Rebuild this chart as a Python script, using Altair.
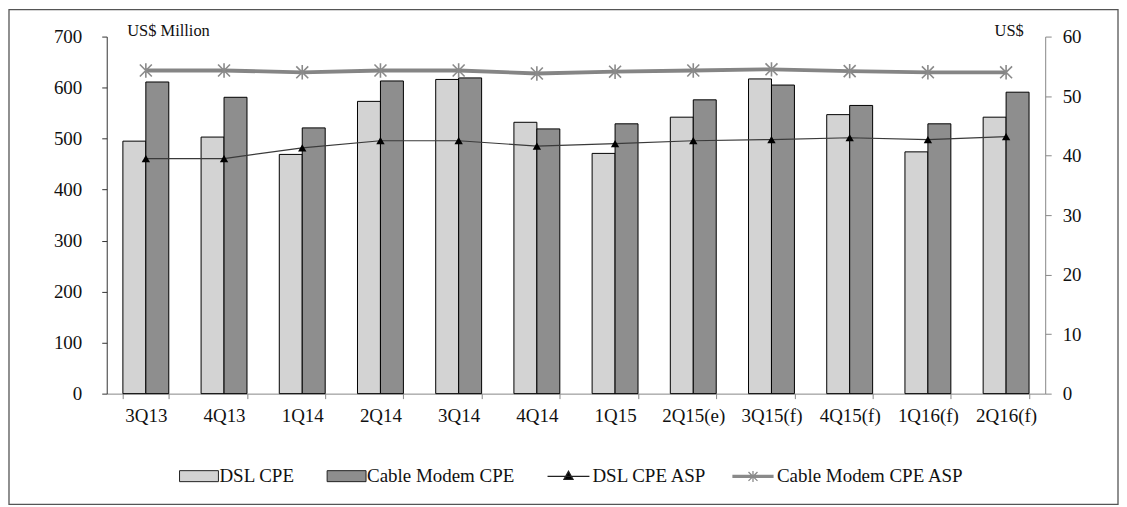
import altair as alt
import pandas as pd

quarters = ["3Q13", "4Q13", "1Q14", "2Q14", "3Q14", "4Q14", "1Q15",
            "2Q15(e)", "3Q15(f)", "4Q15(f)", "1Q16(f)", "2Q16(f)"]
dsl_cpe = [495, 503, 469, 573, 616, 532, 471, 542, 617, 547, 474, 542]
cable_cpe = [611, 581, 521, 613, 619, 519, 529, 576, 605, 565, 529, 591]
dsl_asp = [39.5, 39.5, 41.3, 42.5, 42.5, 41.6, 42.0, 42.5, 42.7, 43.0, 42.7, 43.2]
cable_asp = [54.3, 54.3, 54.0, 54.3, 54.3, 53.8, 54.1, 54.3, 54.5, 54.2, 54.0, 54.0]

bar_names = ["DSL CPE", "Cable Modem CPE"]
line_names = ["DSL CPE ASP", "Cable Modem CPE ASP"]

bars_df = pd.DataFrame(
    [{"quarter": q, "series": bar_names[0], "value": v} for q, v in zip(quarters, dsl_cpe)]
    + [{"quarter": q, "series": bar_names[1], "value": v} for q, v in zip(quarters, cable_cpe)]
)
lines_df = pd.DataFrame(
    [{"quarter": q, "series": line_names[0], "asp": v} for q, v in zip(quarters, dsl_asp)]
    + [{"quarter": q, "series": line_names[1], "asp": v} for q, v in zip(quarters, cable_asp)]
)

FONT = "Liberation Serif"
W, H = 941, 358

x_enc = alt.X(
    "quarter:N", sort=quarters,
    scale=alt.Scale(paddingInner=0.413, paddingOuter=0.2065),
    axis=alt.Axis(title=None, labelAngle=0, tickBand="extent", tickSize=5,
                  labelPadding=8, labelFontSize=19, labelFont=FONT,
                  labelColor="#111", domainColor="#888", tickColor="#888",
                  labelOverlap=False),
)

bars = alt.Chart(bars_df).mark_bar(stroke="black", strokeWidth=1).encode(
    x=x_enc,
    xOffset=alt.XOffset("series:N", sort=bar_names, scale=alt.Scale(paddingInner=0, paddingOuter=0)),
    y=alt.Y("value:Q", scale=alt.Scale(domain=[0, 700]),
            axis=alt.Axis(values=list(range(0, 701, 100)), grid=False, tickSize=5,
                          labelPadding=20, labelFontSize=19, labelFont=FONT, labelColor="#111",
                          domainColor="#333", tickColor="#333",
                          title="US$ Million", titleAngle=0, titleX=20, titleY=-1,
                          titleAlign="left", titleBaseline="alphabetic",
                          titleFont=FONT, titleFontSize=16.5, titleFontWeight="normal",
                          titleColor="#111")),
    color=alt.Color("series:N", scale=alt.Scale(domain=bar_names, range=["#d3d3d3", "#8e8e8e"]),
                    legend=alt.Legend(orient="none", legendX=82, legendY=430, direction="horizontal",
                                      title=None, symbolType="M-1.95,-0.55H1.95V0.55H-1.95Z",
                                      symbolSize=400, symbolStrokeColor="#222", symbolStrokeWidth=1,
                                      labelOffset=10, columnPadding=30, labelLimit=400,
                                      labelFont=FONT, labelFontSize=19, labelColor="#111")),
)

y_right = alt.Y("asp:Q", scale=alt.Scale(domain=[0, 60]),
                axis=alt.Axis(orient="right", values=list(range(0, 61, 10)), grid=False,
                              tickSize=6, labelPadding=11, labelFontSize=19, labelFont=FONT,
                              labelColor="#111", domainColor="#888", tickColor="#888",
                              title="US$", titleAngle=0, titleX=-22, titleY=-1,
                              titleAlign="right", titleBaseline="alphabetic",
                              titleFont=FONT, titleFontSize=16.5, titleFontWeight="normal",
                              titleColor="#111"))

dsl_line = alt.Chart(lines_df).transform_filter(
    alt.datum.series == line_names[0]
).mark_line(color="#3a3a3a", strokeWidth=1.2).encode(x=x_enc, y=y_right)

cable_line = alt.Chart(lines_df).transform_filter(
    alt.datum.series == line_names[1]
).mark_line(color="#858585", strokeWidth=3.8).encode(x=x_enc, y=y_right)

dsl_pts = alt.Chart(lines_df).transform_filter(
    alt.datum.series == line_names[0]
).mark_point(shape="triangle-up", filled=True, color="black", size=70, opacity=1).encode(x=x_enc, y=y_right)

star_path = "M-1,-1L1,1M-1,1L1,-1M0,-1.2V1.2"
cable_pts = alt.Chart(lines_df).transform_filter(
    alt.datum.series == line_names[1]
).mark_point(shape=star_path, filled=False, color="#8a8a8a", strokeWidth=1.6, size=144, opacity=1).encode(x=x_enc, y=y_right)

tri_leg = "M-2.1,0H2.1M0,-0.5L0.45,0.3H-0.45Z"
star_leg = "M-2.0,-0.1H2.0V0.1H-2.0ZM-0.45,-0.45L0.45,0.45M-0.45,0.45L0.45,-0.45M0,-0.55V0.55"
line_legend = alt.Legend(orient="none", legendX=452, legendY=430, direction="horizontal",
                         title=None, symbolSize=400, symbolStrokeWidth=1.3, symbolOpacity=1,
                         labelOffset=13, columnPadding=22, labelLimit=400,
                         labelFont=FONT, labelFontSize=19, labelColor="#111")

legend_pts = alt.Chart(lines_df).mark_point(filled=True, size=0, opacity=1).encode(
    x=x_enc, y=y_right,
    shape=alt.Shape("series:N", scale=alt.Scale(domain=line_names, range=[tri_leg, star_leg]), legend=line_legend),
    fill=alt.Fill("series:N", scale=alt.Scale(domain=line_names, range=["black", "#8a8a8a"]), legend=line_legend),
    stroke=alt.Stroke("series:N", scale=alt.Scale(domain=line_names, range=["#222", "#8a8a8a"]), legend=line_legend),
)

border = alt.Chart(alt.Data(values=[{"frame": 1}])).mark_rect(
    filled=False, stroke="#555", strokeWidth=1.3
).encode(x=alt.value(-98), x2=alt.value(1014), y=alt.value(-27), y2=alt.value(469))

right = alt.layer(cable_line, dsl_line, cable_pts, dsl_pts, legend_pts)

chart = alt.layer(bars, right, border).resolve_scale(y="independent").properties(
    width=W, height=H,
    autosize=alt.AutoSizeParams(type="none"),
    padding={"left": 99, "top": 28, "right": 74, "bottom": 111},
    background="white",
).configure_view(stroke=None)

chart.save("out.html", embed_options={"renderer": "svg", "actions": False})
